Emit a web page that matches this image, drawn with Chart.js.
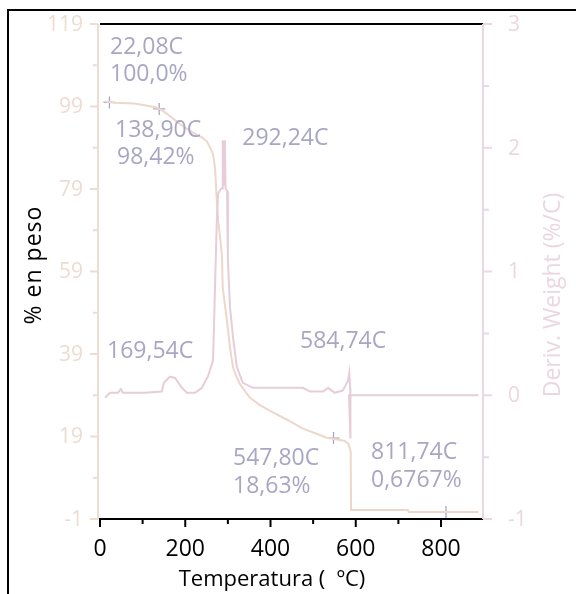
<!DOCTYPE html>
<html>
<head>
<meta charset="utf-8">
<script src="https://cdn.jsdelivr.net/npm/chart.js@4/dist/chart.umd.min.js"></script>
<style>
  html, body { margin: 0; padding: 0; background: #fff; }
  canvas { display: block; }
</style>
</head>
<body>
<canvas id="chart" width="576" height="594"></canvas>
<script>
// TGA curve (weight %, left axis)
const tgaTemp = [12, 35, 80, 105, 130, 145, 160, 176, 195, 216, 239, 251, 258, 265, 270, 274, 277, 281, 286, 288, 293, 298, 305, 312, 320, 328, 340, 352, 375, 399, 440, 476, 505, 532, 560, 574, 583, 588, 589, 722, 724, 888]
const tgaWeight = [100.2, 99.9, 99.7, 99.3, 98.8, 98.1, 97.0, 95.7, 94.2, 92.8, 91.5, 90.5, 89.1, 87.5, 84, 76, 71.4, 68, 63, 55, 51, 47, 40.5, 35.7, 33.5, 31.8, 30, 28.4, 26.6, 25.2, 23, 20.9, 19.8, 18.7, 18.2, 17.9, 17.2, 15.4, 1.2, 1.2, 0.7, 0.7]

// DTG curve (deriv. weight %/C, right axis)
const dtgTemp = [12, 23, 42, 49, 54, 105, 145, 150, 164, 176, 192, 204, 223, 239, 253, 265, 267, 270, 274, 277, 284, 287, 288, 289.5, 290.5, 292.24, 293, 294.5, 298, 300, 305, 312, 321, 335, 359, 415, 476, 493, 523, 535, 551, 570, 582, 584.74, 587, 587.5, 584, 888]
const dtgDeriv = [-0.02, 0.02, 0.02, 0.05, 0.02, 0.02, 0.03, 0.1, 0.15, 0.14, 0.06, 0.02, 0.02, 0.06, 0.15, 0.28, 0.5, 0.9, 1.41, 1.63, 1.67, 1.67, 2.06, 1.7, 2.06, 1.7, 2.06, 1.67, 1.65, 1.09, 0.71, 0.47, 0.23, 0.1, 0.06, 0.06, 0.06, 0.03, 0.03, 0.06, 0.02, 0.04, 0.12, 0.18, 0.06, -0.35, 0, 0]

// marked points
const markTemp = [22.08, 138.90, 547.80, 811.74]
const markWeight = [100.0, 98.42, 18.63, 0.6767]

// annotation texts, anchored (baseline-left) in data coords
const noteText = ["22,08C", "100,0%", "138,90C", "98,42%", "292,24C", "169,54C", "584,74C", "547,80C", "18,63%", "811,74C", "0,6767%"]
const noteTemp = [23.5, 23.5, 35.2, 40, 333.8, 16.4, 469.2, 312, 312, 635.8, 635.8]
const noteWeight = [111.7, 105.2, 91.6, 85.1, 89.7, 38.0, 40.5, 12.1, 5.3, 13.5, 6.76]

// axis ticks
const xTicks = [0, 200, 400, 600, 800]
const xMinor = [100, 300, 500, 700]
const yTicks = [119, 99, 79, 59, 39, 19, -1]
const yMinor = [109, 89, 69, 49, 29, 9]
const y2Ticks = [3, 2, 1, 0, -1]
const y2Minor = [2.5, 1.5, 0.5, -0.5]

const FONT = '"Open Sans", "Noto Sans", sans-serif'
const colTga = "#ecd7ca"
const colDtg = "#e6cdd9"
const colNote = "#a9a6c4"
const colLeft = "#eddcd2"
const colRight = "#ebd7e1"

const zip = (xs, ys) => xs.map((x, i) => ({ x: x, y: ys[i] }))

const axesPlugin = {
  id: "axes",
  afterDraw(chart) {
    const ctx = chart.ctx
    const xs = chart.scales.x
    const ys = chart.scales.y
    const y2 = chart.scales.y2
    const a = chart.chartArea

    ctx.save()
    ctx.lineCap = "butt"

    // outer frame
    ctx.strokeStyle = "#000"
    ctx.lineWidth = 2
    ctx.beginPath()
    ctx.moveTo(8, 594)
    ctx.lineTo(8, 10)
    ctx.lineTo(576, 10)
    ctx.stroke()

    // top border
    ctx.beginPath()
    ctx.moveTo(a.left, a.top)
    ctx.lineTo(a.right, a.top)
    ctx.stroke()

    // x axis
    ctx.beginPath()
    ctx.moveTo(a.left - 1, a.bottom)
    ctx.lineTo(a.right, a.bottom)
    for (const v of xTicks) {
      const px = xs.getPixelForValue(v)
      ctx.moveTo(px, a.bottom)
      ctx.lineTo(px, a.bottom + 8)
    }
    for (const v of xMinor) {
      const px = xs.getPixelForValue(v)
      ctx.moveTo(px, a.bottom)
      ctx.lineTo(px, a.bottom + 5)
    }
    ctx.stroke()

    ctx.fillStyle = "#000"
    ctx.font = "23px " + FONT
    ctx.textAlign = "center"
    ctx.textBaseline = "middle"
    for (const v of xTicks)
      ctx.fillText(String(v), xs.getPixelForValue(v), a.bottom + 30)

    ctx.font = "22px " + FONT
    ctx.fillText("Temperatura (  \u00baC)", 272, 580)

    // left axis
    ctx.strokeStyle = colLeft
    ctx.beginPath()
    ctx.moveTo(a.left - 2, a.top)
    ctx.lineTo(a.left - 2, a.bottom)
    for (const v of yTicks) {
      const py = ys.getPixelForValue(v)
      ctx.moveTo(a.left - 2, py)
      ctx.lineTo(a.left - 10, py)
    }
    for (const v of yMinor) {
      const py = ys.getPixelForValue(v)
      ctx.moveTo(a.left - 2, py)
      ctx.lineTo(a.left - 7, py)
    }
    ctx.stroke()

    ctx.fillStyle = colLeft
    ctx.font = "21px " + FONT
    ctx.textAlign = "right"
    for (const v of yTicks)
      ctx.fillText(String(v), 83, ys.getPixelForValue(v) + 1)

    ctx.save()
    ctx.translate(34, 265)
    ctx.rotate(-Math.PI / 2)
    ctx.fillStyle = "#000"
    ctx.textAlign = "center"
    ctx.font = "23px " + FONT
    if ("letterSpacing" in ctx) ctx.letterSpacing = "1px"
    ctx.fillText("% en peso", 0, 0)
    ctx.restore()

    // right axis
    ctx.strokeStyle = colRight
    ctx.beginPath()
    ctx.moveTo(a.right, a.top)
    ctx.lineTo(a.right, a.bottom)
    for (const v of y2Ticks) {
      const py = y2.getPixelForValue(v)
      ctx.moveTo(a.right, py)
      ctx.lineTo(a.right + 9, py)
    }
    for (const v of y2Minor) {
      const py = y2.getPixelForValue(v)
      ctx.moveTo(a.right, py)
      ctx.lineTo(a.right + 6, py)
    }
    ctx.stroke()

    ctx.fillStyle = colRight
    ctx.font = "21px " + FONT
    ctx.textAlign = "left"
    for (const v of y2Ticks)
      ctx.fillText(String(v), 508, y2.getPixelForValue(v) + 1)

    ctx.save()
    ctx.translate(553, 295)
    ctx.rotate(-Math.PI / 2)
    ctx.textAlign = "center"
    ctx.font = "23px " + FONT
    ctx.fillText("Deriv. Weight (%/C)", 0, 0)
    ctx.restore()

    // annotations
    ctx.fillStyle = colNote
    ctx.font = "23px " + FONT
    ctx.textAlign = "left"
    ctx.textBaseline = "alphabetic"
    noteText.forEach((t, i) => {
      ctx.fillText(t, xs.getPixelForValue(noteTemp[i]), ys.getPixelForValue(noteWeight[i]))
    })

    ctx.restore()
  }
}

new Chart(document.getElementById("chart"), {
  type: "line",
  data: {
    datasets: [
      {
        data: zip(dtgTemp, dtgDeriv),
        yAxisID: "y2",
        borderColor: colDtg,
        borderWidth: 2,
        pointRadius: 0,
        tension: 0
      },
      {
        data: zip(tgaTemp, tgaWeight),
        yAxisID: "y",
        borderColor: colTga,
        borderWidth: 2,
        pointRadius: 0,
        tension: 0
      },
      {
        data: zip(markTemp, markWeight),
        yAxisID: "y",
        showLine: false,
        pointStyle: "cross",
        pointRadius: 6,
        borderColor: colNote,
        borderWidth: 1.3
      }
    ]
  },
  options: {
    responsive: false,
    animation: false,
    devicePixelRatio: 1,
    layout: {
      padding: { left: 100, top: 24, right: 93, bottom: 75 }
    },
    plugins: {
      legend: { display: false },
      tooltip: { enabled: false }
    },
    scales: {
      x: { type: "linear", min: 0, max: 898.5, display: false },
      y: { type: "linear", min: -1, max: 119, display: false },
      y2: { type: "linear", min: -1, max: 3, display: false, position: "right" }
    }
  },
  plugins: [axesPlugin]
})
</script>
</body>
</html>
